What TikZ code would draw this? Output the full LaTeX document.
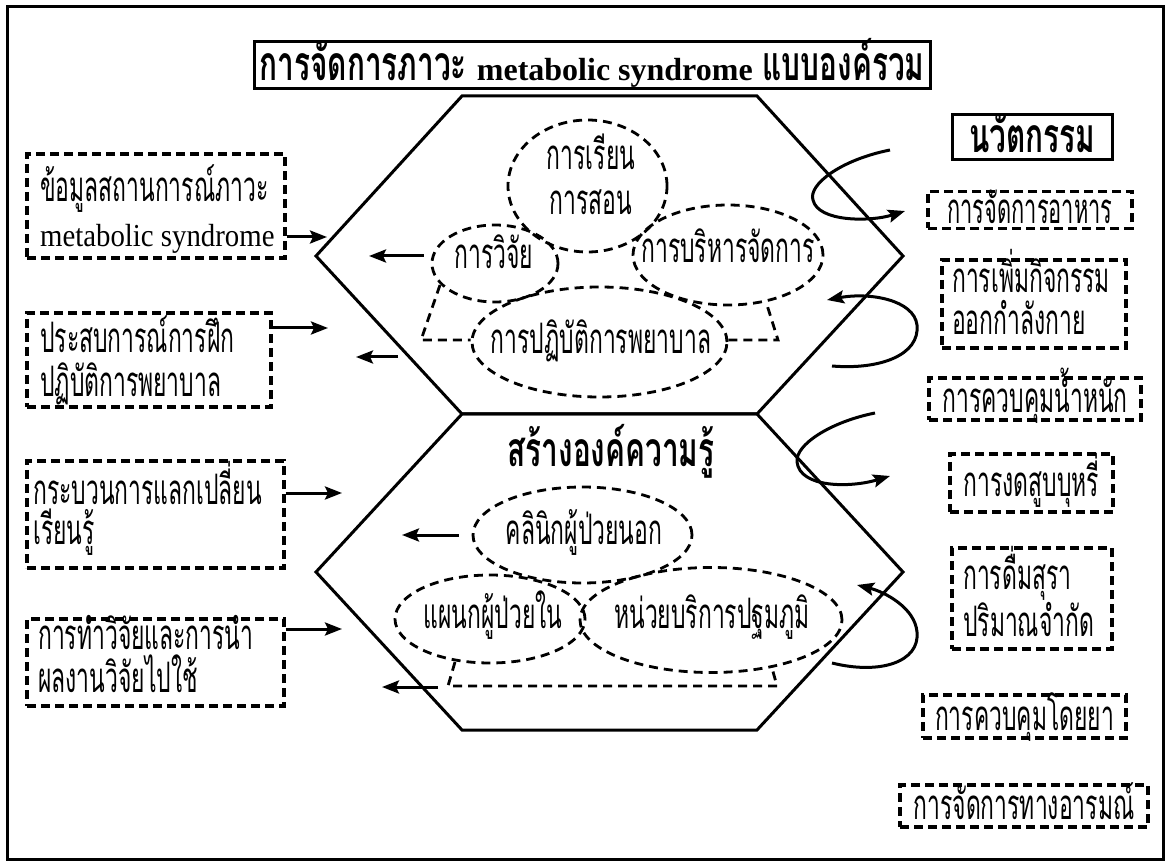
\documentclass[tikz,border=0pt]{standalone}
\usepackage{fontspec}
\newfontfamily\thaif[Script=Thai,FakeStretch=0.545]{Loma}
\newfontfamily\thaib[Script=Thai,FakeStretch=0.62]{Loma}
\newfontfamily\titlelat{Liberation Serif}
\newfontfamily\latr[FakeStretch=0.9]{Liberation Serif}
\usetikzlibrary{shapes.geometric,arrows.meta}
\begin{document}
\begin{tikzpicture}[x=1pt,y=-1pt,
  frame/.style={line width=3pt},
  hexline/.style={line width=3pt,line join=miter},
  dbox/.style={draw,rectangle,line width=3.2pt,dash pattern=on 9pt off 5pt,inner sep=0pt},
  sbox/.style={draw,rectangle,line width=3pt,inner sep=0pt},
  dell/.style={draw,ellipse,line width=2.8pt,dash pattern=on 9pt off 6pt,inner sep=0pt},
  trap/.style={line width=2.8pt,dash pattern=on 9pt off 6pt},
  tx/.style={inner sep=0pt,font=\fontsize{42}{48}\selectfont\thaif,text height=23pt,text depth=4pt},
  txbox/.style={inner sep=0pt,font=\fontsize{42}{48}\selectfont\thaif,text height=31pt,text depth=4pt},
  txb/.style={inner sep=0pt,font=\fontsize{48}{56}\selectfont\thaib\bfseries,text height=26pt,text depth=4.4pt},
  txbbox/.style={inner sep=0pt,font=\fontsize{48}{56}\selectfont\thaib\bfseries,text height=34pt,text depth=4.4pt},
  lat/.style={inner sep=0pt,font=\fontsize{32}{38}\selectfont\latr,text height=14.3pt,text depth=0pt},
  arr/.style={line width=3pt,-{Stealth[length=17pt,width=13pt,inset=3pt]}},
]
\useasboundingbox (0,0) rectangle (1165,866);
\draw[frame] (7,7) rectangle (1163,859);

% hexagons
\coordinate (h1) at (316,256); \coordinate (h2) at (462,96);
\coordinate (h3) at (757,96);  \coordinate (h4) at (903,256);
\coordinate (h5) at (757,414); \coordinate (h6) at (462,414);
\coordinate (k1) at (316,572); \coordinate (k2) at (462,730);
\coordinate (k3) at (757,730); \coordinate (k4) at (903,572);
\draw[hexline] (h1)--(h2)--(h3)--(h4)--(h5)--(h6)--cycle;
\draw[hexline] (h6)--(h5)--(k4)--(k3)--(k2)--(k1)--cycle;

% title
\node[sbox,txbbox,minimum width=676pt,minimum height=47pt] (title) at (592,65.5)
  {การจัดการภาวะ {\titlelat\fontsize{32}{38}\selectfont metabolic syndrome} แบบองค์รวม};

% top hexagon content
\node[dell,minimum width=159pt,minimum height=132pt] (E1) at (587.5,186) {};
\node[tx] (E1a) at (591,160) {การเรียน};
\node[tx] (E1b) at (591,205) {การสอน};
\node[dell,minimum width=126pt,minimum height=77pt] (E2) at (495,263.5) {};
\node[tx] (E2t) at (494,259) {การวิจัย};
\node[dell,minimum width=190pt,minimum height=100pt] (E3) at (728,255) {};
\node[tx] (E3t) at (728,253) {การบริหารจัดการ};
\node[dell,minimum width=255pt,minimum height=110pt] (E4) at (599.5,342) {};
\node[tx] (E4t) at (601,344) {การปฏิบัติการพยาบาล};
\coordinate (t1a) at (440,285); \coordinate (t1b) at (421,340);
\coordinate (t1c) at (778,340); \coordinate (t1d) at (767,305);
\draw[trap] (t1a) -- (t1b) -- (t1b -| E4.west);
\draw[trap] (t1c -| E4.east) -- (t1c) -- (t1d);

% lower hexagon content
\node[txb] (know) at (611,456) {สร้างองค์ความรู้};
\node[dell,minimum width=219pt,minimum height=96pt] (E5) at (582.5,535) {};
\node[tx] (E5t) at (584,535) {คลินิกผู้ป่วยนอก};
\node[dell,minimum width=190pt,minimum height=88pt] (E6) at (490,619) {};
\node[tx] (E6t) at (493,619) {แผนกผู้ป่วยใน};
\node[dell,minimum width=262pt,minimum height=105pt] (E7) at (711,620) {};
\node[tx] (E7t) at (712,619) {หน่วยบริการปฐมภูมิ};
\coordinate (t2a) at (455,662); \coordinate (t2b) at (448,686);
\coordinate (t2c) at (777,686); \coordinate (t2d) at (772,668);
\draw[trap] (t2a) -- (t2b) -- (t2c) -- (t2d);

% left boxes
\node[dbox,minimum width=258pt,minimum height=104pt] (L1) at (156,206) {};
\node[tx,anchor=west] (L1a) at (40,192) {ข้อมูลสถานการณ์ภาวะ};
\node[lat,anchor=west] (L1b) at (40,239.5) {metabolic syndrome};
\node[dbox,minimum width=244pt,minimum height=94pt] (L2) at (149,360) {};
\node[tx,anchor=west] (L2a) at (40,343) {ประสบการณ์การฝึก};
\node[tx,anchor=west] (L2b) at (40,387) {ปฏิบัติการพยาบาล};
\node[dbox,minimum width=257pt,minimum height=107pt] (L3) at (155.5,514.5) {};
\node[tx,anchor=west] (L3a) at (33,495) {กระบวนการแลกเปลี่ยน};
\node[tx,anchor=west] (L3b) at (33,535) {เรียนรู้};
\node[dbox,minimum width=257pt,minimum height=87pt] (L4) at (155.5,662.5) {};
\node[tx,anchor=west] (L4a) at (38,640) {การทำวิจัยและการนำ};
\node[tx,anchor=west] (L4b) at (38,683) {ผลงานวิจัยไปใช้};

% right boxes
\node[sbox,txbbox,minimum width=160pt,minimum height=45pt] (R0) at (1032.5,137.5) {นวัตกรรม};
\node[dbox,txbox,minimum width=204pt,minimum height=37pt] (R1) at (1030,210) {\addfontfeature{FakeStretch=0.52}การจัดการอาหาร};
\node[dbox,minimum width=184pt,minimum height=88pt] (R2) at (1034,304) {};
\node[tx,anchor=west] (R2a) at (952,283) {การเพิ่มกิจกรรม};
\node[tx,anchor=west] (R2b) at (952,325) {ออกกำลังกาย};
\node[dbox,txbox,minimum width=212pt,minimum height=42pt] (R3) at (1035,399) {การควบคุมน้ำหนัก};
\node[dbox,txbox,minimum width=163pt,minimum height=58pt] (R4) at (1031.5,483) {การงดสูบบุหรี่};
\node[dbox,minimum width=160pt,minimum height=101pt] (R5) at (1032,598.5) {};
\node[tx,anchor=west] (R5a) at (963,580) {การดื่มสุรา};
\node[tx,anchor=west] (R5b) at (963,627) {ปริมาณจำกัด};
\node[dbox,txbox,minimum width=203pt,minimum height=43pt] (R6) at (1024.5,716.5) {การควบคุมโดยยา};
\node[dbox,txbox,minimum width=248pt,minimum height=42pt] (R7) at (1024,806) {การจัดการทางอารมณ์};

% straight arrows
\coordinate (a1) at (327,237);
\coordinate (a2) at (328,328);
\coordinate (a4) at (342,493);
\coordinate (a5) at (342,629);
\draw[arr] (L1.east |- a1) -- (a1);
\draw[arr] (L2.east |- a2) -- (a2);
\draw[arr] (L3.east |- a4) -- (a4);
\draw[arr] (L4.east |- a5) -- (a5);
\coordinate (a3s) at (398,357); \coordinate (a3e) at (356,357);
\draw[arr] (a3s) -- (a3e);
\coordinate (a6s) at (438,687); \coordinate (a6e) at (382,687);
\draw[arr] (a6s) -- (a6e);
\coordinate (ia1) at (369,256);
\draw[arr] ([xshift=-7pt]E2.west |- ia1) -- (ia1);
\coordinate (ia2) at (402,535);
\draw[arr] ([xshift=-13pt]E5.west |- ia2) -- (ia2);

% curved arrows
\coordinate (c1s) at (890,150); \coordinate (c1e) at (905,211);
\draw[arr] (c1s) .. controls (840,160) and (808,185) .. (813,200) .. controls (818,222) and (870,222) .. (c1e);
\coordinate (c2s) at (832,366); \coordinate (c2e) at (827,300);
\draw[arr] (c2s) .. controls (880,370) and (920,355) .. (917,325) .. controls (914,300) and (870,292) .. (c2e);
\coordinate (c3s) at (875,413); \coordinate (c3e) at (890,476);
\draw[arr] (c3s) .. controls (830,422) and (795,445) .. (797,462) .. controls (800,488) and (850,488) .. (c3e);
\coordinate (c4s) at (832,663); \coordinate (c4e) at (857,585);
\draw[arr] (c4s) .. controls (880,675) and (920,662) .. (917,632) .. controls (915,608) and (885,592) .. (c4e);
\end{tikzpicture}
\end{document}
